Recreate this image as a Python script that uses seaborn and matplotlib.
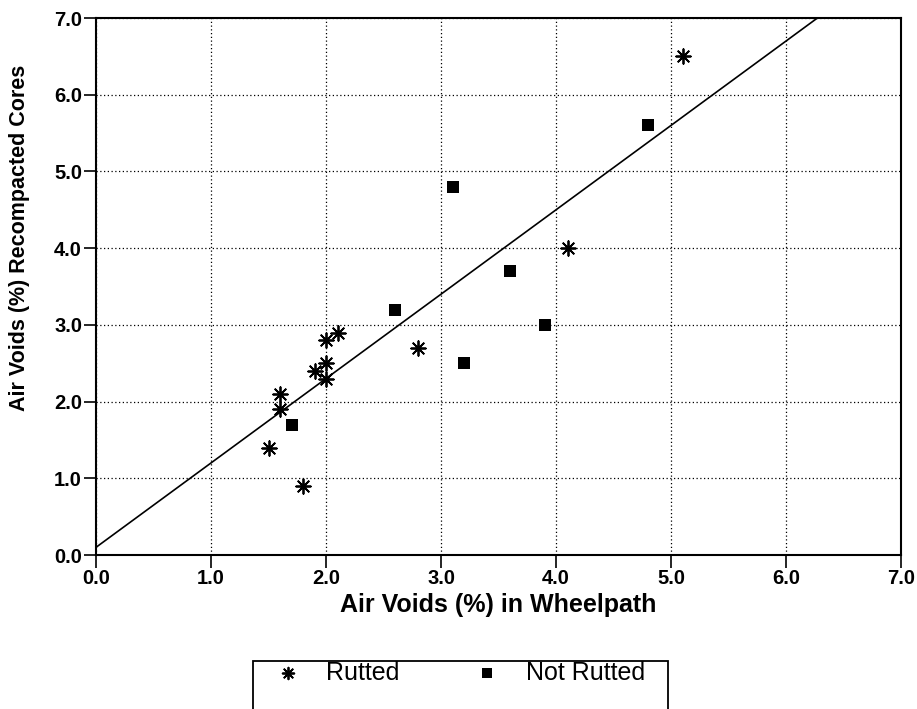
import pandas as pd
import matplotlib
matplotlib.use('Agg')
import matplotlib.pyplot as plt
from matplotlib.patches import Rectangle
import seaborn as sns

# Data
rutted_x = [1.5, 1.6, 1.6, 1.8, 1.9, 2.0, 2.0, 2.0, 2.1, 2.8, 4.1, 5.1]
rutted_y = [1.4, 2.1, 1.9, 0.9, 2.4, 2.5, 2.8, 2.3, 2.9, 2.7, 4.0, 6.5]
not_rutted_x = [1.7, 2.6, 3.1, 3.2, 3.6, 3.9, 4.8]
not_rutted_y = [1.7, 3.2, 4.8, 2.5, 3.7, 3.0, 5.6]
fit_x = [0.0, 7.0]
fit_slope = 1.1
fit_intercept = 0.1

rutted = pd.DataFrame({'x': rutted_x, 'y': rutted_y})
not_rutted = pd.DataFrame({'x': not_rutted_x, 'y': not_rutted_y})
fit = pd.DataFrame({'x': fit_x, 'y': [fit_slope * v + fit_intercept for v in fit_x]})

sns.set_style('white', {'text.color': 'black', 'axes.labelcolor': 'black',
                        'xtick.color': 'black', 'ytick.color': 'black'})
plt.rcParams['font.family'] = ['Liberation Sans', 'DejaVu Sans']

fig = plt.figure(figsize=(9.17, 7.09), dpi=100)
ax = fig.add_axes([0.1047, 0.2172, 0.8779, 0.7574])

sns.lineplot(data=fit, x='x', y='y', color='black', linewidth=1.2, ax=ax)
sns.scatterplot(data=rutted, x='x', y='y', marker=(8, 2, 0), s=110,
                color='black', edgecolor='black', linewidth=1.3,
                label='Rutted', ax=ax)
sns.scatterplot(data=not_rutted, x='x', y='y', marker='s', s=80,
                color='black', edgecolor='black', linewidth=0,
                label='Not Rutted', ax=ax)

ax.set_xlim(0, 7)
ax.set_ylim(0, 7)
ticks = [0, 1, 2, 3, 4, 5, 6, 7]
ax.set_xticks(ticks)
ax.set_yticks(ticks)
ax.set_xticklabels([f'{t:.1f}' for t in ticks], fontsize=14.5, fontweight='bold')
ax.set_yticklabels([f'{t:.1f}' for t in ticks], fontsize=14.5, fontweight='bold')
ax.tick_params(axis='both', direction='out', length=9, width=1.2, color='black',
               labelcolor='black', left=True, bottom=True, pad=1)
ax.grid(True, linestyle=(0, (1, 2)), color='black', linewidth=0.9)
for sp in ax.spines.values():
    sp.set_color('black')
    sp.set_linewidth(1.5)

ax.set_xlabel('Air Voids (%) in Wheelpath', fontsize=18, fontweight='bold',
              labelpad=4, color='black')
ax.set_ylabel('Air Voids (%) Recompacted Cores', fontsize=15.5, fontweight='bold',
              color='black')
# y label sits a bit above the axes centre in the original
ax.yaxis.set_label_coords(30 / 917, 1 - 238 / 709, transform=fig.transFigure)

handles, labels = ax.get_legend_handles_labels()
ax.get_legend().remove()
leg = fig.legend(handles, labels, loc='center left', ncol=2,
                 bbox_to_anchor=(275 / 917, 1 - 673 / 709), fontsize=18,
                 frameon=False, borderpad=0, borderaxespad=0,
                 columnspacing=3.0, handletextpad=1.06,
                 handlelength=1.0, markerscale=0.8, labelcolor='black')
# legend box runs off the bottom of the page in the original
fig.patches.append(Rectangle((253 / 917, 1 - 740 / 709), (668 - 253) / 917, 79 / 709,
                             transform=fig.transFigure, fill=False,
                             edgecolor='black', linewidth=1.3))

fig.savefig('out.png', dpi=100)
